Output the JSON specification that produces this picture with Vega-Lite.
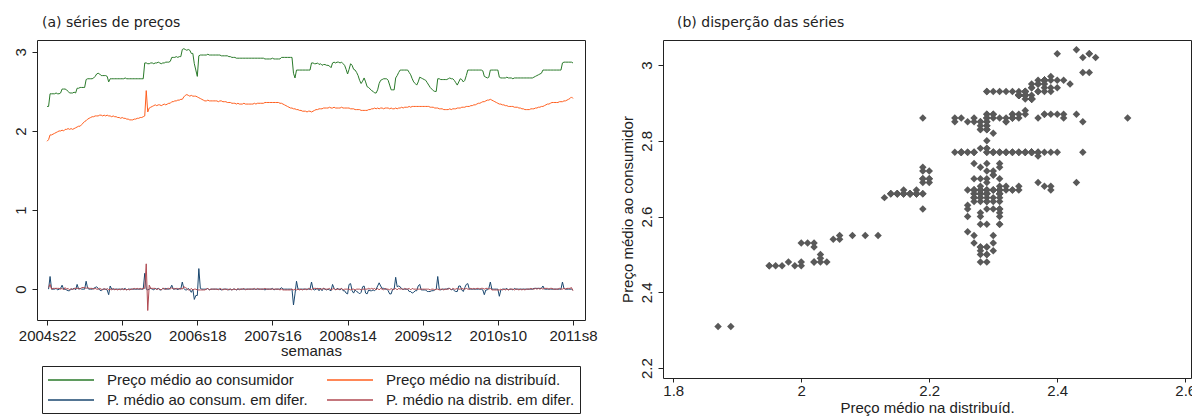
{
"$schema": "https://vega.github.io/schema/vega-lite/v6.json",
"background": "white",
"padding": {"left": 12, "top": 15, "right": 4, "bottom": 0},
"spacing": 21,
"config": {
  "font": "Liberation Sans",
  "view": {"stroke": "#222222", "strokeWidth": 1},
  "axis": {"grid": false, "domain": false, "tickColor": "#222222", "tickSize": 5, "labelFont": "Liberation Sans", "labelFontSize": 14, "labelColor": "#222222", "titleFont": "Liberation Sans", "titleFontSize": 14, "titleFontWeight": "normal", "titleColor": "#222222"},
  "title": {"font": "DejaVu Sans", "fontSize": 14, "fontWeight": "normal", "anchor": "start", "frame": "group", "color": "#222222"}
},
"resolve": {"legend": {"color": "independent"}, "scale": {"color": "independent"}},
"datasets": {"precos": [
{"t":0,"c":2.31,"d":1.87},
{"t":1,"c":2.31,"d":1.89,"dc":0,"dd":0.02},
{"t":2,"c":2.47,"d":1.95,"dc":0.16,"dd":0.06},
{"t":3,"c":2.47,"d":1.95,"dc":0,"dd":0},
{"t":4,"c":2.47,"d":1.96,"dc":0,"dd":0.01},
{"t":5,"c":2.47,"d":1.97,"dc":0,"dd":0.01},
{"t":6,"c":2.48,"d":1.98,"dc":0.01,"dd":0.01},
{"t":7,"c":2.47,"d":1.99,"dc":-0.01,"dd":0.01},
{"t":8,"c":2.47,"d":2.00,"dc":0,"dd":0.01},
{"t":9,"c":2.48,"d":2.00,"dc":0.01,"dd":0},
{"t":10,"c":2.53,"d":2.01,"dc":0.05,"dd":0.01},
{"t":11,"c":2.53,"d":2.00,"dc":0,"dd":-0.01},
{"t":12,"c":2.53,"d":2.02,"dc":0,"dd":0.02},
{"t":13,"c":2.52,"d":2.02,"dc":-0.01,"dd":0},
{"t":14,"c":2.50,"d":2.03,"dc":-0.02,"dd":0.01},
{"t":15,"c":2.48,"d":2.02,"dc":-0.02,"dd":-0.01},
{"t":16,"c":2.48,"d":2.03,"dc":0,"dd":0.01},
{"t":17,"c":2.48,"d":2.02,"dc":0,"dd":-0.01},
{"t":18,"c":2.49,"d":2.03,"dc":0.01,"dd":0.01},
{"t":19,"c":2.48,"d":2.04,"dc":-0.01,"dd":0.01},
{"t":20,"c":2.54,"d":2.05,"dc":0.06,"dd":0.01},
{"t":21,"c":2.54,"d":2.06,"dc":0,"dd":0.01},
{"t":22,"c":2.55,"d":2.06,"dc":0.01,"dd":0},
{"t":23,"c":2.55,"d":2.08,"dc":0,"dd":0.02},
{"t":24,"c":2.55,"d":2.10,"dc":0,"dd":0.02},
{"t":25,"c":2.55,"d":2.12,"dc":0,"dd":0.02},
{"t":26,"c":2.65,"d":2.13,"dc":0.10,"dd":0.01},
{"t":27,"c":2.66,"d":2.15,"dc":0.01,"dd":0.02},
{"t":28,"c":2.66,"d":2.16,"dc":0,"dd":0.01},
{"t":29,"c":2.66,"d":2.17,"dc":0,"dd":0.01},
{"t":30,"c":2.66,"d":2.18,"dc":0,"dd":0.01},
{"t":31,"c":2.67,"d":2.18,"dc":0.01,"dd":0},
{"t":32,"c":2.69,"d":2.19,"dc":0.02,"dd":0.01},
{"t":33,"c":2.72,"d":2.19,"dc":0.03,"dd":0},
{"t":34,"c":2.73,"d":2.19,"dc":0.01,"dd":0},
{"t":35,"c":2.72,"d":2.20,"dc":-0.01,"dd":0.01},
{"t":36,"c":2.70,"d":2.20,"dc":-0.02,"dd":0},
{"t":37,"c":2.70,"d":2.19,"dc":0,"dd":-0.01},
{"t":38,"c":2.70,"d":2.20,"dc":0,"dd":0.01},
{"t":39,"c":2.70,"d":2.19,"dc":0,"dd":-0.01},
{"t":40,"c":2.69,"d":2.20,"dc":-0.01,"dd":0.01},
{"t":41,"c":2.62,"d":2.19,"dc":-0.07,"dd":-0.01},
{"t":42,"c":2.66,"d":2.19,"dc":0.04,"dd":0},
{"t":43,"c":2.66,"d":2.18,"dc":0,"dd":-0.01},
{"t":44,"c":2.66,"d":2.19,"dc":0,"dd":0.01},
{"t":45,"c":2.66,"d":2.18,"dc":0,"dd":-0.01},
{"t":46,"c":2.66,"d":2.18,"dc":0,"dd":0},
{"t":47,"c":2.66,"d":2.17,"dc":0,"dd":-0.01},
{"t":48,"c":2.66,"d":2.17,"dc":0,"dd":0},
{"t":49,"c":2.66,"d":2.16,"dc":0,"dd":-0.01},
{"t":50,"c":2.66,"d":2.17,"dc":0,"dd":0.01},
{"t":51,"c":2.66,"d":2.16,"dc":0,"dd":-0.01},
{"t":52,"c":2.67,"d":2.16,"dc":0.01,"dd":0},
{"t":53,"c":2.66,"d":2.15,"dc":-0.01,"dd":-0.01},
{"t":54,"c":2.66,"d":2.15,"dc":0,"dd":0},
{"t":55,"c":2.66,"d":2.14,"dc":0,"dd":-0.01},
{"t":56,"c":2.66,"d":2.14,"dc":0,"dd":0},
{"t":57,"c":2.66,"d":2.14,"dc":0,"dd":0},
{"t":58,"c":2.66,"d":2.15,"dc":0,"dd":0.01},
{"t":59,"c":2.66,"d":2.15,"dc":0,"dd":0},
{"t":60,"c":2.66,"d":2.16,"dc":0,"dd":0.01},
{"t":61,"c":2.66,"d":2.16,"dc":0,"dd":0},
{"t":62,"c":2.66,"d":2.17,"dc":0,"dd":0.01},
{"t":63,"c":2.66,"d":2.17,"dc":0,"dd":0},
{"t":64,"c":2.66,"d":2.18,"dc":0,"dd":0.01},
{"t":65,"c":2.86,"d":2.19,"dc":0.20,"dd":0.01},
{"t":66,"c":2.86,"d":2.51,"dc":0,"dd":0.32},
{"t":67,"c":2.85,"d":2.24,"dc":-0.01,"dd":-0.27},
{"t":68,"c":2.85,"d":2.29,"dc":0,"dd":0.05},
{"t":69,"c":2.86,"d":2.30,"dc":0.01,"dd":0.01},
{"t":70,"c":2.86,"d":2.31,"dc":0,"dd":0.01},
{"t":71,"c":2.85,"d":2.32,"dc":-0.01,"dd":0.01},
{"t":72,"c":2.86,"d":2.33,"dc":0.01,"dd":0.01},
{"t":73,"c":2.86,"d":2.32,"dc":0,"dd":-0.01},
{"t":74,"c":2.87,"d":2.33,"dc":0.01,"dd":0.01},
{"t":75,"c":2.86,"d":2.33,"dc":-0.01,"dd":0},
{"t":76,"c":2.85,"d":2.32,"dc":-0.01,"dd":-0.01},
{"t":77,"c":2.86,"d":2.33,"dc":0.01,"dd":0.01},
{"t":78,"c":2.86,"d":2.34,"dc":0,"dd":0.01},
{"t":79,"c":2.87,"d":2.33,"dc":0.01,"dd":-0.01},
{"t":80,"c":2.87,"d":2.34,"dc":0,"dd":0.01},
{"t":81,"c":2.87,"d":2.35,"dc":0,"dd":0.01},
{"t":82,"c":2.88,"d":2.35,"dc":0.01,"dd":0},
{"t":83,"c":2.93,"d":2.37,"dc":0.05,"dd":0.02},
{"t":84,"c":2.93,"d":2.37,"dc":0,"dd":0},
{"t":85,"c":2.93,"d":2.38,"dc":0,"dd":0.01},
{"t":86,"c":2.94,"d":2.38,"dc":0.01,"dd":0},
{"t":87,"c":2.93,"d":2.39,"dc":-0.01,"dd":0.01},
{"t":88,"c":2.94,"d":2.39,"dc":0.01,"dd":0},
{"t":89,"c":2.94,"d":2.40,"dc":0,"dd":0.01},
{"t":90,"c":3.03,"d":2.40,"dc":0.09,"dd":0},
{"t":91,"c":3.04,"d":2.43,"dc":0.01,"dd":0.03},
{"t":92,"c":3.03,"d":2.45,"dc":-0.01,"dd":0.02},
{"t":93,"c":3.02,"d":2.46,"dc":-0.01,"dd":0.01},
{"t":94,"c":3.03,"d":2.45,"dc":0.01,"dd":-0.01},
{"t":95,"c":3.02,"d":2.44,"dc":-0.01,"dd":-0.01},
{"t":96,"c":2.98,"d":2.45,"dc":-0.04,"dd":0.01},
{"t":97,"c":2.98,"d":2.44,"dc":0,"dd":-0.01},
{"t":98,"c":2.85,"d":2.44,"dc":-0.13,"dd":0},
{"t":99,"c":2.77,"d":2.44,"dc":-0.08,"dd":0},
{"t":100,"c":2.69,"d":2.43,"dc":-0.08,"dd":-0.01},
{"t":101,"c":2.95,"d":2.42,"dc":0.26,"dd":-0.01},
{"t":102,"c":2.96,"d":2.41,"dc":0.01,"dd":-0.01},
{"t":103,"c":2.96,"d":2.40,"dc":0,"dd":-0.01},
{"t":104,"c":2.96,"d":2.39,"dc":0,"dd":-0.01},
{"t":105,"c":2.96,"d":2.38,"dc":0,"dd":-0.01},
{"t":106,"c":2.96,"d":2.38,"dc":0,"dd":0},
{"t":107,"c":2.97,"d":2.39,"dc":0.01,"dd":0.01},
{"t":108,"c":2.96,"d":2.38,"dc":-0.01,"dd":-0.01},
{"t":109,"c":2.96,"d":2.38,"dc":0,"dd":0},
{"t":110,"c":2.96,"d":2.38,"dc":0,"dd":0},
{"t":111,"c":2.96,"d":2.38,"dc":0,"dd":0},
{"t":112,"c":2.96,"d":2.38,"dc":0,"dd":0},
{"t":113,"c":2.96,"d":2.38,"dc":0,"dd":0},
{"t":114,"c":2.96,"d":2.37,"dc":0,"dd":-0.01},
{"t":115,"c":2.96,"d":2.38,"dc":0,"dd":0.01},
{"t":116,"c":2.95,"d":2.38,"dc":-0.01,"dd":0},
{"t":117,"c":2.95,"d":2.37,"dc":0,"dd":-0.01},
{"t":118,"c":2.95,"d":2.37,"dc":0,"dd":0},
{"t":119,"c":2.95,"d":2.37,"dc":0,"dd":0},
{"t":120,"c":2.95,"d":2.36,"dc":0,"dd":-0.01},
{"t":121,"c":2.94,"d":2.36,"dc":-0.01,"dd":0},
{"t":122,"c":2.94,"d":2.36,"dc":0,"dd":0},
{"t":123,"c":2.93,"d":2.35,"dc":-0.01,"dd":-0.01},
{"t":124,"c":2.93,"d":2.35,"dc":0,"dd":0},
{"t":125,"c":2.93,"d":2.35,"dc":0,"dd":0},
{"t":126,"c":2.92,"d":2.34,"dc":-0.01,"dd":-0.01},
{"t":127,"c":2.92,"d":2.35,"dc":0,"dd":0.01},
{"t":128,"c":2.92,"d":2.34,"dc":0,"dd":-0.01},
{"t":129,"c":2.92,"d":2.34,"dc":0,"dd":0},
{"t":130,"c":2.92,"d":2.34,"dc":0,"dd":0},
{"t":131,"c":2.92,"d":2.35,"dc":0,"dd":0.01},
{"t":132,"c":2.92,"d":2.34,"dc":0,"dd":-0.01},
{"t":133,"c":2.92,"d":2.34,"dc":0,"dd":0},
{"t":134,"c":2.92,"d":2.34,"dc":0,"dd":0},
{"t":135,"c":2.92,"d":2.34,"dc":0,"dd":0},
{"t":136,"c":2.92,"d":2.34,"dc":0,"dd":0},
{"t":137,"c":2.92,"d":2.34,"dc":0,"dd":0},
{"t":138,"c":2.92,"d":2.35,"dc":0,"dd":0.01},
{"t":139,"c":2.92,"d":2.34,"dc":0,"dd":-0.01},
{"t":140,"c":2.92,"d":2.35,"dc":0,"dd":0.01},
{"t":141,"c":2.92,"d":2.35,"dc":0,"dd":0},
{"t":142,"c":2.92,"d":2.35,"dc":0,"dd":0},
{"t":143,"c":2.92,"d":2.35,"dc":0,"dd":0},
{"t":144,"c":2.92,"d":2.35,"dc":0,"dd":0},
{"t":145,"c":2.91,"d":2.36,"dc":-0.01,"dd":0.01},
{"t":146,"c":2.91,"d":2.36,"dc":0,"dd":0},
{"t":147,"c":2.91,"d":2.36,"dc":0,"dd":0},
{"t":148,"c":2.91,"d":2.36,"dc":0,"dd":0},
{"t":149,"c":2.91,"d":2.36,"dc":0,"dd":0},
{"t":150,"c":2.92,"d":2.36,"dc":0.01,"dd":0},
{"t":151,"c":2.91,"d":2.36,"dc":-0.01,"dd":0},
{"t":152,"c":2.91,"d":2.36,"dc":0,"dd":0},
{"t":153,"c":2.91,"d":2.36,"dc":0,"dd":0},
{"t":154,"c":2.91,"d":2.36,"dc":0,"dd":0},
{"t":155,"c":2.91,"d":2.35,"dc":0,"dd":-0.01},
{"t":156,"c":2.93,"d":2.35,"dc":0.02,"dd":0},
{"t":157,"c":2.93,"d":2.34,"dc":0,"dd":-0.01},
{"t":158,"c":2.93,"d":2.33,"dc":0,"dd":-0.01},
{"t":159,"c":2.93,"d":2.32,"dc":0,"dd":-0.01},
{"t":160,"c":2.93,"d":2.31,"dc":0,"dd":-0.01},
{"t":161,"c":2.93,"d":2.30,"dc":0,"dd":-0.01},
{"t":162,"c":2.93,"d":2.29,"dc":0,"dd":-0.01},
{"t":163,"c":2.93,"d":2.29,"dc":0,"dd":0},
{"t":164,"c":2.73,"d":2.28,"dc":-0.20,"dd":-0.01},
{"t":165,"c":2.67,"d":2.28,"dc":-0.06,"dd":0},
{"t":166,"c":2.77,"d":2.27,"dc":0.10,"dd":-0.01},
{"t":167,"c":2.77,"d":2.27,"dc":0,"dd":0},
{"t":168,"c":2.77,"d":2.26,"dc":0,"dd":-0.01},
{"t":169,"c":2.77,"d":2.26,"dc":0,"dd":0},
{"t":170,"c":2.77,"d":2.25,"dc":0,"dd":-0.01},
{"t":171,"c":2.77,"d":2.25,"dc":0,"dd":0},
{"t":172,"c":2.77,"d":2.25,"dc":0,"dd":0},
{"t":173,"c":2.77,"d":2.24,"dc":0,"dd":-0.01},
{"t":174,"c":2.77,"d":2.25,"dc":0,"dd":0.01},
{"t":175,"c":2.77,"d":2.25,"dc":0,"dd":0},
{"t":176,"c":2.86,"d":2.24,"dc":0.09,"dd":-0.01},
{"t":177,"c":2.86,"d":2.25,"dc":0,"dd":0.01},
{"t":178,"c":2.85,"d":2.26,"dc":-0.01,"dd":0.01},
{"t":179,"c":2.85,"d":2.27,"dc":0,"dd":0.01},
{"t":180,"c":2.86,"d":2.27,"dc":0.01,"dd":0},
{"t":181,"c":2.84,"d":2.28,"dc":-0.02,"dd":0.01},
{"t":182,"c":2.85,"d":2.28,"dc":0.01,"dd":0},
{"t":183,"c":2.83,"d":2.28,"dc":-0.02,"dd":0},
{"t":184,"c":2.84,"d":2.29,"dc":0.01,"dd":0.01},
{"t":185,"c":2.84,"d":2.29,"dc":0,"dd":0},
{"t":186,"c":2.83,"d":2.29,"dc":-0.01,"dd":0},
{"t":187,"c":2.83,"d":2.29,"dc":0,"dd":0},
{"t":188,"c":2.82,"d":2.30,"dc":-0.01,"dd":0.01},
{"t":189,"c":2.80,"d":2.29,"dc":-0.02,"dd":-0.01},
{"t":190,"c":2.86,"d":2.29,"dc":0.06,"dd":0},
{"t":191,"c":2.87,"d":2.30,"dc":0.01,"dd":0.01},
{"t":192,"c":2.86,"d":2.29,"dc":-0.01,"dd":-0.01},
{"t":193,"c":2.87,"d":2.29,"dc":0.01,"dd":0},
{"t":194,"c":2.87,"d":2.29,"dc":0,"dd":0},
{"t":195,"c":2.86,"d":2.29,"dc":-0.01,"dd":0},
{"t":196,"c":2.87,"d":2.30,"dc":0.01,"dd":0.01},
{"t":197,"c":2.85,"d":2.29,"dc":-0.02,"dd":-0.01},
{"t":198,"c":2.83,"d":2.29,"dc":-0.02,"dd":0},
{"t":199,"c":2.78,"d":2.29,"dc":-0.05,"dd":0},
{"t":200,"c":2.72,"d":2.29,"dc":-0.06,"dd":0},
{"t":201,"c":2.78,"d":2.29,"dc":0.06,"dd":0},
{"t":202,"c":2.85,"d":2.28,"dc":0.07,"dd":-0.01},
{"t":203,"c":2.83,"d":2.28,"dc":-0.02,"dd":0},
{"t":204,"c":2.78,"d":2.28,"dc":-0.05,"dd":0},
{"t":205,"c":2.77,"d":2.27,"dc":-0.01,"dd":-0.01},
{"t":206,"c":2.74,"d":2.27,"dc":-0.03,"dd":0},
{"t":207,"c":2.70,"d":2.27,"dc":-0.04,"dd":0},
{"t":208,"c":2.64,"d":2.27,"dc":-0.06,"dd":0},
{"t":209,"c":2.60,"d":2.26,"dc":-0.04,"dd":-0.01},
{"t":210,"c":2.63,"d":2.26,"dc":0.03,"dd":0},
{"t":211,"c":2.67,"d":2.26,"dc":0.04,"dd":0},
{"t":212,"c":2.62,"d":2.26,"dc":-0.05,"dd":0},
{"t":213,"c":2.56,"d":2.26,"dc":-0.06,"dd":0},
{"t":214,"c":2.55,"d":2.27,"dc":-0.01,"dd":0.01},
{"t":215,"c":2.53,"d":2.27,"dc":-0.02,"dd":0},
{"t":216,"c":2.51,"d":2.28,"dc":-0.02,"dd":0.01},
{"t":217,"c":2.50,"d":2.28,"dc":-0.01,"dd":0},
{"t":218,"c":2.48,"d":2.29,"dc":-0.02,"dd":0.01},
{"t":219,"c":2.48,"d":2.28,"dc":0,"dd":-0.01},
{"t":220,"c":2.52,"d":2.29,"dc":0.04,"dd":0.01},
{"t":221,"c":2.60,"d":2.28,"dc":0.08,"dd":-0.01},
{"t":222,"c":2.64,"d":2.29,"dc":0.04,"dd":0.01},
{"t":223,"c":2.65,"d":2.29,"dc":0.01,"dd":0},
{"t":224,"c":2.66,"d":2.28,"dc":0.01,"dd":-0.01},
{"t":225,"c":2.66,"d":2.29,"dc":0,"dd":0.01},
{"t":226,"c":2.66,"d":2.29,"dc":0,"dd":0},
{"t":227,"c":2.64,"d":2.29,"dc":-0.02,"dd":0},
{"t":228,"c":2.58,"d":2.28,"dc":-0.06,"dd":-0.01},
{"t":229,"c":2.52,"d":2.29,"dc":-0.06,"dd":0.01},
{"t":230,"c":2.52,"d":2.28,"dc":0,"dd":-0.01},
{"t":231,"c":2.52,"d":2.28,"dc":0,"dd":0},
{"t":232,"c":2.67,"d":2.29,"dc":0.15,"dd":0.01},
{"t":233,"c":2.70,"d":2.28,"dc":0.03,"dd":-0.01},
{"t":234,"c":2.74,"d":2.29,"dc":0.04,"dd":0.01},
{"t":235,"c":2.77,"d":2.29,"dc":0.03,"dd":0},
{"t":236,"c":2.77,"d":2.30,"dc":0,"dd":0.01},
{"t":237,"c":2.77,"d":2.29,"dc":0,"dd":-0.01},
{"t":238,"c":2.77,"d":2.30,"dc":0,"dd":0.01},
{"t":239,"c":2.77,"d":2.30,"dc":0,"dd":0},
{"t":240,"c":2.77,"d":2.30,"dc":0,"dd":0},
{"t":241,"c":2.74,"d":2.31,"dc":-0.03,"dd":0.01},
{"t":242,"c":2.71,"d":2.30,"dc":-0.03,"dd":-0.01},
{"t":243,"c":2.66,"d":2.31,"dc":-0.05,"dd":0.01},
{"t":244,"c":2.62,"d":2.31,"dc":-0.04,"dd":0},
{"t":245,"c":2.60,"d":2.31,"dc":-0.02,"dd":0},
{"t":246,"c":2.58,"d":2.31,"dc":-0.02,"dd":0},
{"t":247,"c":2.62,"d":2.31,"dc":0.04,"dd":0},
{"t":248,"c":2.68,"d":2.31,"dc":0.06,"dd":0},
{"t":249,"c":2.67,"d":2.31,"dc":-0.01,"dd":0},
{"t":250,"c":2.66,"d":2.31,"dc":-0.01,"dd":0},
{"t":251,"c":2.65,"d":2.31,"dc":-0.01,"dd":0},
{"t":252,"c":2.64,"d":2.31,"dc":-0.01,"dd":0},
{"t":253,"c":2.61,"d":2.31,"dc":-0.03,"dd":0},
{"t":254,"c":2.58,"d":2.31,"dc":-0.03,"dd":0},
{"t":255,"c":2.55,"d":2.30,"dc":-0.03,"dd":-0.01},
{"t":256,"c":2.53,"d":2.30,"dc":-0.02,"dd":0},
{"t":257,"c":2.51,"d":2.30,"dc":-0.02,"dd":0},
{"t":258,"c":2.50,"d":2.29,"dc":-0.01,"dd":-0.01},
{"t":259,"c":2.50,"d":2.29,"dc":0,"dd":0},
{"t":260,"c":2.66,"d":2.29,"dc":0.16,"dd":0},
{"t":261,"c":2.66,"d":2.28,"dc":0,"dd":-0.01},
{"t":262,"c":2.65,"d":2.28,"dc":-0.01,"dd":0},
{"t":263,"c":2.65,"d":2.28,"dc":0,"dd":0},
{"t":264,"c":2.65,"d":2.27,"dc":0,"dd":-0.01},
{"t":265,"c":2.65,"d":2.27,"dc":0,"dd":0},
{"t":266,"c":2.65,"d":2.27,"dc":0,"dd":0},
{"t":267,"c":2.66,"d":2.27,"dc":0.01,"dd":0},
{"t":268,"c":2.67,"d":2.28,"dc":0.01,"dd":0.01},
{"t":269,"c":2.66,"d":2.27,"dc":-0.01,"dd":-0.01},
{"t":270,"c":2.66,"d":2.28,"dc":0,"dd":0.01},
{"t":271,"c":2.64,"d":2.28,"dc":-0.02,"dd":0},
{"t":272,"c":2.61,"d":2.28,"dc":-0.03,"dd":0},
{"t":273,"c":2.58,"d":2.29,"dc":-0.03,"dd":0.01},
{"t":274,"c":2.62,"d":2.29,"dc":0.04,"dd":0},
{"t":275,"c":2.66,"d":2.29,"dc":0.04,"dd":0},
{"t":276,"c":2.65,"d":2.30,"dc":-0.01,"dd":0.01},
{"t":277,"c":2.62,"d":2.30,"dc":-0.03,"dd":0},
{"t":278,"c":2.64,"d":2.30,"dc":0.02,"dd":0},
{"t":279,"c":2.70,"d":2.31,"dc":0.06,"dd":0.01},
{"t":280,"c":2.77,"d":2.31,"dc":0.07,"dd":0},
{"t":281,"c":2.77,"d":2.31,"dc":0,"dd":0},
{"t":282,"c":2.77,"d":2.32,"dc":0,"dd":0.01},
{"t":283,"c":2.77,"d":2.32,"dc":0,"dd":0},
{"t":284,"c":2.77,"d":2.33,"dc":0,"dd":0.01},
{"t":285,"c":2.77,"d":2.33,"dc":0,"dd":0},
{"t":286,"c":2.77,"d":2.34,"dc":0,"dd":0.01},
{"t":287,"c":2.77,"d":2.35,"dc":0,"dd":0.01},
{"t":288,"c":2.77,"d":2.35,"dc":0,"dd":0},
{"t":289,"c":2.77,"d":2.36,"dc":0,"dd":0.01},
{"t":290,"c":2.76,"d":2.37,"dc":-0.01,"dd":0.01},
{"t":291,"c":2.69,"d":2.37,"dc":-0.07,"dd":0},
{"t":292,"c":2.68,"d":2.38,"dc":-0.01,"dd":0.01},
{"t":293,"c":2.67,"d":2.39,"dc":-0.01,"dd":0.01},
{"t":294,"c":2.68,"d":2.39,"dc":0.01,"dd":0},
{"t":295,"c":2.77,"d":2.40,"dc":0.09,"dd":0.01},
{"t":296,"c":2.77,"d":2.39,"dc":0,"dd":-0.01},
{"t":297,"c":2.77,"d":2.38,"dc":0,"dd":-0.01},
{"t":298,"c":2.77,"d":2.37,"dc":0,"dd":-0.01},
{"t":299,"c":2.77,"d":2.36,"dc":0,"dd":-0.01},
{"t":300,"c":2.77,"d":2.35,"dc":0,"dd":-0.01},
{"t":301,"c":2.68,"d":2.34,"dc":-0.09,"dd":-0.01},
{"t":302,"c":2.67,"d":2.34,"dc":-0.01,"dd":0},
{"t":303,"c":2.67,"d":2.33,"dc":0,"dd":-0.01},
{"t":304,"c":2.67,"d":2.33,"dc":0,"dd":0},
{"t":305,"c":2.67,"d":2.32,"dc":0,"dd":-0.01},
{"t":306,"c":2.68,"d":2.32,"dc":0.01,"dd":0},
{"t":307,"c":2.67,"d":2.31,"dc":-0.01,"dd":-0.01},
{"t":308,"c":2.67,"d":2.31,"dc":0,"dd":0},
{"t":309,"c":2.67,"d":2.31,"dc":0,"dd":0},
{"t":310,"c":2.66,"d":2.31,"dc":-0.01,"dd":0},
{"t":311,"c":2.67,"d":2.30,"dc":0.01,"dd":-0.01},
{"t":312,"c":2.67,"d":2.30,"dc":0,"dd":0},
{"t":313,"c":2.67,"d":2.30,"dc":0,"dd":0},
{"t":314,"c":2.67,"d":2.29,"dc":0,"dd":-0.01},
{"t":315,"c":2.67,"d":2.29,"dc":0,"dd":0},
{"t":316,"c":2.67,"d":2.28,"dc":0,"dd":-0.01},
{"t":317,"c":2.67,"d":2.28,"dc":0,"dd":0},
{"t":318,"c":2.67,"d":2.27,"dc":0,"dd":-0.01},
{"t":319,"c":2.67,"d":2.27,"dc":0,"dd":0},
{"t":320,"c":2.67,"d":2.27,"dc":0,"dd":0},
{"t":321,"c":2.67,"d":2.27,"dc":0,"dd":0},
{"t":322,"c":2.67,"d":2.28,"dc":0,"dd":0.01},
{"t":323,"c":2.67,"d":2.28,"dc":0,"dd":0},
{"t":324,"c":2.68,"d":2.28,"dc":0.01,"dd":0},
{"t":325,"c":2.69,"d":2.29,"dc":0.01,"dd":0.01},
{"t":326,"c":2.70,"d":2.29,"dc":0.01,"dd":0},
{"t":327,"c":2.71,"d":2.30,"dc":0.01,"dd":0.01},
{"t":328,"c":2.72,"d":2.30,"dc":0.01,"dd":0},
{"t":329,"c":2.73,"d":2.31,"dc":0.01,"dd":0.01},
{"t":330,"c":2.77,"d":2.31,"dc":0.04,"dd":0},
{"t":331,"c":2.77,"d":2.32,"dc":0,"dd":0.01},
{"t":332,"c":2.77,"d":2.33,"dc":0,"dd":0.01},
{"t":333,"c":2.77,"d":2.34,"dc":0,"dd":0.01},
{"t":334,"c":2.77,"d":2.34,"dc":0,"dd":0},
{"t":335,"c":2.77,"d":2.35,"dc":0,"dd":0.01},
{"t":336,"c":2.77,"d":2.36,"dc":0,"dd":0.01},
{"t":337,"c":2.77,"d":2.36,"dc":0,"dd":0},
{"t":338,"c":2.77,"d":2.36,"dc":0,"dd":0},
{"t":339,"c":2.77,"d":2.36,"dc":0,"dd":0},
{"t":340,"c":2.77,"d":2.36,"dc":0,"dd":0},
{"t":341,"c":2.77,"d":2.37,"dc":0,"dd":0.01},
{"t":342,"c":2.77,"d":2.37,"dc":0,"dd":0},
{"t":343,"c":2.86,"d":2.37,"dc":0.09,"dd":0},
{"t":344,"c":2.87,"d":2.38,"dc":0.01,"dd":0.01},
{"t":345,"c":2.87,"d":2.38,"dc":0,"dd":0},
{"t":346,"c":2.87,"d":2.39,"dc":0,"dd":0.01},
{"t":347,"c":2.87,"d":2.40,"dc":0,"dd":0.01},
{"t":348,"c":2.87,"d":2.41,"dc":0,"dd":0.01},
{"t":349,"c":2.87,"d":2.43,"dc":0,"dd":0.02},
{"t":350,"c":2.86,"d":2.41,"dc":-0.01,"dd":-0.02}
]},
"hconcat": [
  {
    "width": 548,
    "height": 280,
    "title": {"text": "(a) séries de preços", "dx": 5, "offset": 10},
    "data": {"name": "precos"},
    "transform": [{"fold": ["c", "d", "dc", "dd"], "as": ["serie", "valor"]}],
    "mark": {"type": "line", "strokeWidth": 1},
    "encoding": {
      "x": {"field": "t", "type": "quantitative", "scale": {"domain": [-6.7, 358], "nice": false, "zero": false},
            "axis": {"values": [0, 50, 100, 150, 200, 250, 300, 350], "labelExpr": "['2004s22','2005s20','2006s18','2007s16','2008s14','2009s12','2010s10','2011s8'][round(datum.value/50)]", "title": "semanas", "titlePadding": 0, "labelPadding": 3, "labelFontSize": 15, "titleFontSize": 15}},
      "y": {"field": "valor", "type": "quantitative", "scale": {"domain": [-0.39, 3.15], "nice": false, "zero": false},
            "axis": {"values": [0, 1, 2, 3], "format": "~g", "labelAngle": 270, "labelAlign": "center", "labelBaseline": "bottom", "labelPadding": 4, "title": null, "labelFontSize": 15}},
      "color": {"field": "serie", "type": "nominal",
                "scale": {"domain": ["c", "d", "dc", "dd"], "range": ["#2a7a2a", "#ff5f1f", "#1a476f", "#b04a52"]},
                "legend": {"orient": "none", "legendX": 5, "legendY": 326, "direction": "horizontal", "columns": 2, "title": null, "symbolType": "M-1,0H4.75", "symbolSize": 256, "symbolStrokeWidth": 1.5, "labelFont": "Liberation Sans", "labelFontSize": 15, "labelColor": "#222222", "labelLimit": 320, "labelOffset": 42, "strokeColor": "#222222", "padding": 5, "columnPadding": 16, "rowPadding": 3,
                           "labelExpr": "datum.label == 'c' ? 'Preço médio ao consumidor' : datum.label == 'd' ? 'Preço médio na distribuíd.' : datum.label == 'dc' ? 'P. médio ao consum. em difer.' : 'P. médio na distrib. em difer.'"}}
    }
  },
  {
    "width": 528,
    "height": 338,
    "title": {"text": "(b) disperção das séries", "dx": 14, "offset": 10},
    "data": {"name": "precos"},
    "mark": {"type": "point", "shape": "diamond", "filled": true, "size": 56, "color": "#595959", "opacity": 1},
    "encoding": {
      "x": {"field": "d", "type": "quantitative", "scale": {"domain": [1.784, 2.609], "nice": false, "zero": false},
            "axis": {"values": [1.8, 2, 2.2, 2.4, 2.6], "format": "~g", "title": "Preço médio na distribuíd.", "titlePadding": 2, "labelPadding": 1, "tickSize": 4, "labelFontSize": 15, "titleFontSize": 15}},
      "y": {"field": "c", "type": "quantitative", "scale": {"domain": [2.174, 3.066], "nice": false, "zero": false},
            "axis": {"values": [2.2, 2.4, 2.6, 2.8, 3], "format": "~g", "labelAngle": 270, "labelAlign": "center", "labelBaseline": "bottom", "labelPadding": 4, "title": "Preço médio ao consumidor", "titlePadding": 4, "labelFontSize": 15, "titleFontSize": 15}}
    }
  }
]
}
